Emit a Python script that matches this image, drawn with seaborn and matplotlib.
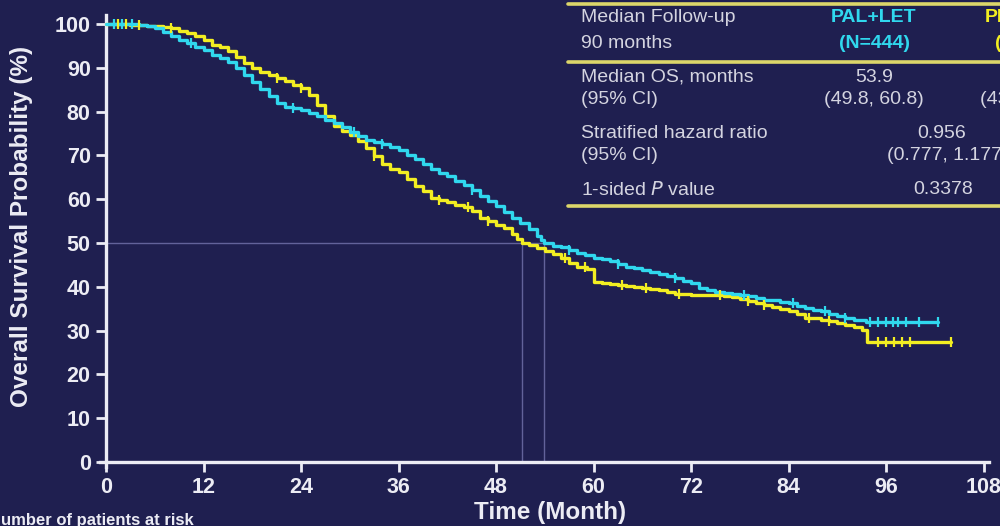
import numpy as np
import pandas as pd
import matplotlib
matplotlib.use("Agg")
import matplotlib.pyplot as plt
from matplotlib.lines import Line2D
import seaborn as sns

# Kaplan-Meier overall survival, PAL+LET arm (months, % surviving)
pal_time = [0, 1, 2, 3, 4, 5, 6, 7, 8, 9, 10, 11, 12, 13, 14, 15, 16, 17, 18, 19,
            20, 21, 22, 23, 24, 25, 26, 27, 28, 29, 30, 31, 32, 33, 34, 35, 36,
            37, 38, 39, 40, 41, 42, 43, 44, 45, 46, 47, 48, 49, 50, 51, 52, 53,
            53.5, 53.9, 55, 56, 57, 58, 59, 60, 61, 62, 63, 64, 65, 66, 67, 68,
            69, 70, 71, 72, 73, 74, 75, 76, 77, 78, 79, 80, 81, 82, 83, 84, 85,
            86, 87, 88, 89, 90, 91, 92, 93.5, 102.4]
pal_surv = [100, 100, 100, 100, 99.8, 99.6, 99.0, 98.2, 97.2, 96.4, 95.6, 94.8,
            94.0, 93.0, 92.2, 91.4, 90.0, 88.4, 86.8, 85.2, 83.6, 82.0, 81.0, 80.8,
            80.4, 79.6, 78.9, 78.2, 77.3, 76.4, 75.4, 74.4, 73.6, 73.0, 72.6, 72.0,
            71.3, 70.2, 69.2, 68.0, 66.8, 66.0, 65.2, 64.2, 63.2, 62.0, 60.8, 59.6,
            58.4, 57.2, 55.8, 54.5, 53.2, 51.6, 50.8, 49.9, 49.4, 49.0, 48.4, 47.8,
            47.2, 46.6, 46.3, 45.9, 45.3, 44.6, 44.2, 43.8, 43.4, 43.0, 42.5, 42.0,
            41.4, 40.8, 39.8, 39.2, 38.9, 38.6, 38.4, 38.2, 37.8, 37.4, 37.1, 36.9,
            36.6, 36.2, 35.6, 35.2, 34.8, 34.4, 33.9, 33.4, 32.9, 32.5, 32.0, 32.0]
pal_censor = [1.0, 2.0, 3.2, 10.5, 23.0, 30.5, 34.0, 45.0, 57.0, 63.0, 70.0, 78.5,
              84.5, 88.5, 91.0, 94.0, 95.0, 96.0, 96.8, 97.5, 98.5, 100.0, 102.4]

# Kaplan-Meier overall survival, PBO+LET arm
pbo_time = [0, 3, 5, 6, 7, 8, 9, 10, 11, 12, 13, 14, 15, 16, 17, 18, 19, 20, 21,
            22, 23, 24, 25, 26, 27, 28, 29, 30, 31, 32, 33, 34, 35, 36, 37, 38,
            39, 40, 41, 42, 43, 44, 45, 46, 47, 48, 49, 50, 50.6, 51.2, 52, 53,
            54, 55, 56, 57, 58, 59.2, 60, 61, 62, 63, 64, 65, 66, 67, 68, 69, 70,
            72, 74, 76, 77, 78, 79, 80, 81, 82, 83, 84, 85, 86, 87, 88, 89, 90,
            91, 92, 93, 93.6, 104]
pbo_surv = [100, 99.8, 99.6, 99.5, 99.3, 99.0, 98.5, 97.9, 97.2, 96.3, 95.3, 94.7,
            93.8, 92.5, 91.2, 90.0, 89.0, 88.3, 87.6, 87.0, 86.2, 85.3, 83.8, 81.5,
            79.0, 76.8, 75.6, 74.6, 73.2, 71.8, 69.8, 68.0, 67.0, 66.2, 64.6, 63.0,
            61.8, 60.4, 59.8, 59.4, 58.8, 58.2, 57.4, 55.8, 55.0, 54.2, 53.4, 52.0,
            51.0, 49.9, 49.6, 48.8, 48.2, 47.6, 46.6, 45.4, 44.6, 44.0, 41.2, 40.8,
            40.6, 40.4, 40.2, 40.0, 39.8, 39.6, 39.3, 38.8, 38.4, 38.2, 38.1, 38.0,
            37.6, 37.2, 36.7, 36.2, 35.8, 35.4, 35.0, 34.5, 33.8, 33.0, 32.8, 32.5,
            32.2, 31.8, 31.4, 30.8, 30.2, 27.3, 27.3]
pbo_censor = [1.5, 2.5, 4.0, 8.0, 21.0, 24.0, 33.0, 41.0, 44.5, 47.0, 56.5, 59.0,
              63.5, 66.5, 70.5, 75.5, 79.0, 81.0, 86.5, 89.0, 95.0, 96.0, 97.0,
              98.0, 99.0, 104.0]

median_pal = 53.9
median_pbo = 51.2

x_ticks = list(range(0, 109, 12))
y_ticks = list(range(0, 101, 10))

# summary table
table_left = [("Median Follow-up", "90 months"),
              ("Median OS, months", "(95% CI)"),
              ("Stratified hazard ratio", "(95% CI)")]
arm_names = ["PAL+LET", "PBO+LET"]
arm_n = ["(N=444)", "(N=222)"]
arm_os = ["53.9", "51.2"]
arm_os_ci = ["(49.8, 60.8)", "(43.7, 58.9)"]
hr_text = "0.956"
hr_ci_text = "(0.777, 1.177)"
p_text = "0.3378"

BG = "#1f1f50"
FG = "#ececf4"
CYAN = "#30d8ee"
YELLOW = "#f2ee22"
TXT = "#d4d4e0"
RULE = "#dcd66a"
MEDLINE = "#62629a"

sns.set_style("ticks")
plt.rcParams["font.family"] = ["Liberation Sans", "DejaVu Sans"]

W, H = 1000, 526
fig = plt.figure(figsize=(10, 5.26), dpi=100, facecolor=BG)
ax = fig.add_axes([99.5 / W, (H - 467.3) / H, 889 / W, 452 / H])
ax.set_facecolor(BG)


def km_frame(t, s, arm):
    return pd.DataFrame({"time": t, "surv": s, "arm": arm})


def censor_frame(t, s, c, arm):
    idx = np.searchsorted(np.asarray(t), np.asarray(c), side="right") - 1
    return pd.DataFrame({"time": c, "surv": np.asarray(s)[idx], "arm": arm})


# median reference lines
ax.plot([0, median_pal], [50, 50], color=MEDLINE, lw=1, zorder=1)
ax.plot([median_pbo, median_pbo], [0, 50], color=MEDLINE, lw=1, zorder=1)
ax.plot([median_pal, median_pal], [0, 50], color=MEDLINE, lw=1, zorder=1)

for t, s, c, arm, col in [(pbo_time, pbo_surv, pbo_censor, "PBO+LET", YELLOW),
                          (pal_time, pal_surv, pal_censor, "PAL+LET", CYAN)]:
    sns.lineplot(data=km_frame(t, s, arm), x="time", y="surv", ax=ax,
                 color=col, lw=2.4, drawstyle="steps-post",
                 estimator=None, sort=False, legend=False, zorder=3)
    sns.scatterplot(data=censor_frame(t, s, c, arm), x="time", y="surv", ax=ax,
                    color=col, marker="|", s=45, linewidth=1.6, legend=False,
                    zorder=4)

ax.set_xlim(-0.8, 108.6)
ax.set_ylim(-1.2, 102)
ax.spines["left"].set_position(("data", 0))
ax.spines["bottom"].set_position(("data", 0))
for side in ["top", "right"]:
    ax.spines[side].set_visible(False)
for side in ["left", "bottom"]:
    ax.spines[side].set_color(FG)
    ax.spines[side].set_linewidth(2.4)

ax.set_xticks(x_ticks)
ax.set_yticks(y_ticks)
ax.tick_params(axis="both", colors=FG, width=2, length=7, direction="out",
               labelsize=15.5, pad=4)
for lab in ax.get_xticklabels() + ax.get_yticklabels():
    lab.set_fontweight("bold")
    lab.set_color(FG)
ax.set_xlabel("")
ax.set_ylabel("")

fig.text(22 / W, 1 - 226 / H, "Overall Survival Probability (%)", rotation=90,
         ha="center", va="center", fontsize=17.5, fontweight="bold", color=FG)
fig.text(550 / W, 1 - 513 / H, "Time (Month)", ha="center", va="center",
         fontsize=17.5, fontweight="bold", color=FG)
fig.text(-11 / W, 1 - 521 / H, "Number of patients at risk", ha="left",
         va="center", fontsize=12, fontweight="bold", color=FG)

# summary table in the upper right
for yy in [4, 62, 206]:
    fig.add_artist(Line2D([568 / W, 1.0], [1 - yy / H, 1 - yy / H],
                          transform=fig.transFigure, color=RULE, lw=2.6))

rows_y = [(18, 43), (77, 100), (133, 156)]
for (a, b), (ya, yb) in zip(table_left, rows_y):
    fig.text(581 / W, 1 - ya / H, a, ha="left", va="center", fontsize=14, color=TXT)
    fig.text(581 / W, 1 - yb / H, b, ha="left", va="center", fontsize=14, color=TXT)
fig.text(581 / W, 1 - 190 / H, "1-sided $\\it{P}$ value", ha="left",
         va="center", fontsize=14, color=TXT)

col_x = [874, 1030]
col_c = [CYAN, YELLOW]
for cx, name, n, os_, ci, cc in zip(col_x, arm_names, arm_n, arm_os, arm_os_ci, col_c):
    fig.text(cx / W, 1 - 18 / H, name, ha="center", va="center", fontsize=14,
             fontweight="bold", color=cc)
    fig.text(cx / W, 1 - 43 / H, n, ha="center", va="center", fontsize=14,
             fontweight="bold", color=cc)
    fig.text(cx / W, 1 - 77 / H, os_, ha="center", va="center", fontsize=14, color=TXT)
    fig.text(cx / W, 1 - 100 / H, ci, ha="center", va="center", fontsize=14, color=TXT)

fig.text(942 / W, 1 - 133 / H, hr_text, ha="center", va="center", fontsize=14, color=TXT)
fig.text(948 / W, 1 - 156 / H, hr_ci_text, ha="center", va="center", fontsize=14, color=TXT)
fig.text(943 / W, 1 - 190 / H, p_text, ha="center", va="center", fontsize=14, color=TXT)

fig.savefig("out.png", dpi=100, facecolor=BG)
